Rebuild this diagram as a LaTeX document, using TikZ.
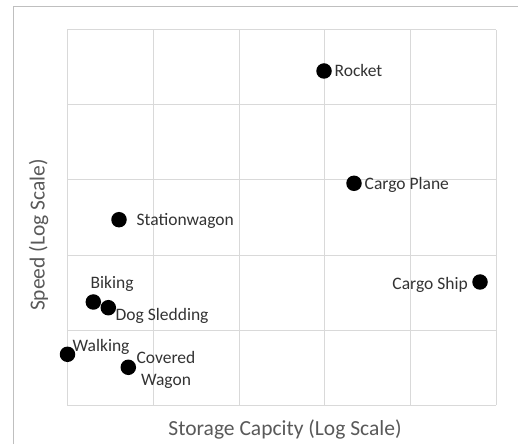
\documentclass[tikz,border=0pt]{standalone}
\usepackage{fontspec}
\setmainfont{Carlito}
\begin{document}
\begin{tikzpicture}[x=1pt,y=1pt,
  grid/.style={draw=black!15,line width=1pt},
  frame/.style={draw=black!25,line width=1pt},
  dot/.style={circle,fill=black,inner sep=0pt,minimum size=15.5pt},
  lbl/.style={inner sep=0pt,text=black!80,font=\fontsize{17.5}{22}\selectfont},
  ttl/.style={inner sep=0pt,text=black!65,font=\fontsize{21.5}{26}\selectfont}]
\useasboundingbox (0,0) rectangle (518,444);
\fill[white] (0,0) rectangle (518,444);
% outer frame
\coordinate (f1) at (13.5,0);
\coordinate (f2) at (13.5,437);
\coordinate (f3) at (518,437);
\draw[frame] (f1) -- (f2) -- (f3);
% grid
\foreach \x in {67,153,239,324.5,410,496}
  \draw[grid] (\x,38.7) -- (\x,414.3);
\foreach \y in {38.7,113.3,188.7,264.3,339.3,414.3}
  \draw[grid] (67,\y) -- (496,\y);
% points
\node[dot] (rocket) at (324,373) {};
\node[lbl,anchor=base west] (rocketL) at (334.5,367.3) {Rocket};
\node[dot] (plane) at (354,260.7) {};
\node[lbl,anchor=base west] (planeL) at (364.5,254.7) {Cargo Plane};
\node[dot] (wagon) at (119,224.3) {};
\node[lbl,anchor=base west] (wagonL) at (136.5,218) {Stationwagon};
\node[dot] (ship) at (480,162) {};
\node[lbl,anchor=base east] (shipL) at (468,154.7) {Cargo Ship};
\node[dot] (bike) at (93.3,142) {};
\node[lbl,anchor=base west] (bikeL) at (90.5,155.7) {Biking};
\node[dot] (dog) at (108.3,136.3) {};
\node[lbl,anchor=base west] (dogL) at (115.5,124) {Dog Sledding};
\node[dot] (walk) at (67.5,89.7) {};
\node[lbl,anchor=base west] (walkL) at (72.5,92.3) {Walking};
\node[dot] (cov) at (128.3,76.7) {};
\node[lbl,align=center,anchor=base] (covL) at (166,59) {Covered\\Wagon};
% axis titles
\node[ttl,anchor=base] (xt) at (285,8.3) {Storage Capcity (Log Scale)};
\node[ttl,rotate=90] (yt) at (38.5,234.5-25.5) {Speed (Log Scale)};
\end{tikzpicture}
\end{document}
